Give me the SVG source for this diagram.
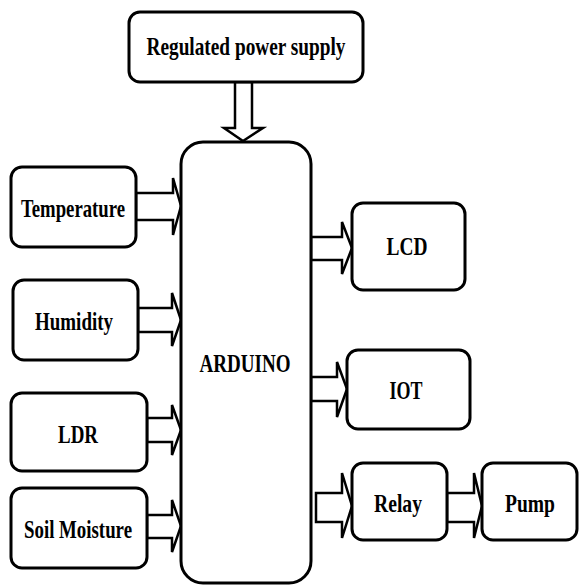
<svg xmlns="http://www.w3.org/2000/svg" width="579" height="585" viewBox="0 0 579 585">
<style>
.box{fill:#fff;stroke:#000;stroke-width:3}
.arr{fill:#fff;stroke:#000;stroke-width:2.5;stroke-linejoin:miter}
.t{font-family:"Liberation Serif","DejaVu Serif Condensed","DejaVu Serif",serif;font-weight:bold;font-size:25px;fill:#000;text-anchor:middle}
</style>
<rect width="579" height="585" fill="#fff"/>
<g id="connectors">
<polygon class="arr" points="235,82 252,82 252,128 263,128 243,141 224,128 235,128"/>
<polygon class="arr" points="136,193 173,193 173,178 181,206 173,235 173,220 136,220"/>
<polygon class="arr" points="138,308 172,308 172,293 181,320 172,346 172,332 138,332"/>
<polygon class="arr" points="147,418 172,418 172,405 181,430 172,455 172,442 147,442"/>
<polygon class="arr" points="147,515 172,515 172,500 181,526 172,552 172,538 147,538"/>
<polygon class="arr" points="311,237 342,237 342,222 352,248 342,274 342,260 311,260"/>
<polygon class="arr" points="311,377 337,377 337,362 347,389 337,417 337,401 311,401"/>
<polygon class="arr" points="316,493 342,493 342,473 352,506 342,538 342,522 316,522"/>
<polygon class="arr" points="447,493 474,493 474,473 482,506 474,538 474,522 447,522"/>
</g>
<g id="power"><rect class="box" x="129" y="12" width="234" height="70" rx="11"/><text class="t" x="246" y="55" textLength="199" lengthAdjust="spacingAndGlyphs">Regulated power supply</text></g>
<g id="arduino"><rect class="box" x="181" y="142" width="130" height="441" rx="22"/><text class="t" x="245" y="372" textLength="91" lengthAdjust="spacingAndGlyphs">ARDUINO</text></g>
<g id="temperature"><rect class="box" x="11" y="167" width="125" height="80" rx="11"/><text class="t" x="73" y="217" textLength="104" lengthAdjust="spacingAndGlyphs">Temperature</text></g>
<g id="humidity"><rect class="box" x="13" y="280" width="125" height="80" rx="11"/><text class="t" x="74" y="330" textLength="78" lengthAdjust="spacingAndGlyphs">Humidity</text></g>
<g id="ldr"><rect class="box" x="11" y="393" width="136" height="78" rx="11"/><text class="t" x="78" y="443" textLength="40" lengthAdjust="spacingAndGlyphs">LDR</text></g>
<g id="soil"><rect class="box" x="11" y="488" width="136" height="80" rx="11"/><text class="t" x="78" y="538" textLength="108" lengthAdjust="spacingAndGlyphs">Soil Moisture</text></g>
<g id="lcd"><rect class="box" x="352" y="203" width="113" height="87" rx="11"/><text class="t" x="407" y="255" textLength="41" lengthAdjust="spacingAndGlyphs">LCD</text></g>
<g id="iot"><rect class="box" x="347" y="350" width="123" height="79" rx="11"/><text class="t" x="406" y="399" textLength="33" lengthAdjust="spacingAndGlyphs">IOT</text></g>
<g id="relay"><rect class="box" x="352" y="463" width="95" height="77" rx="11"/><text class="t" x="398" y="512" textLength="48" lengthAdjust="spacingAndGlyphs">Relay</text></g>
<g id="pump"><rect class="box" x="482" y="463" width="95" height="77" rx="11"/><text class="t" x="530" y="512" textLength="50" lengthAdjust="spacingAndGlyphs">Pump</text></g>
</svg>
